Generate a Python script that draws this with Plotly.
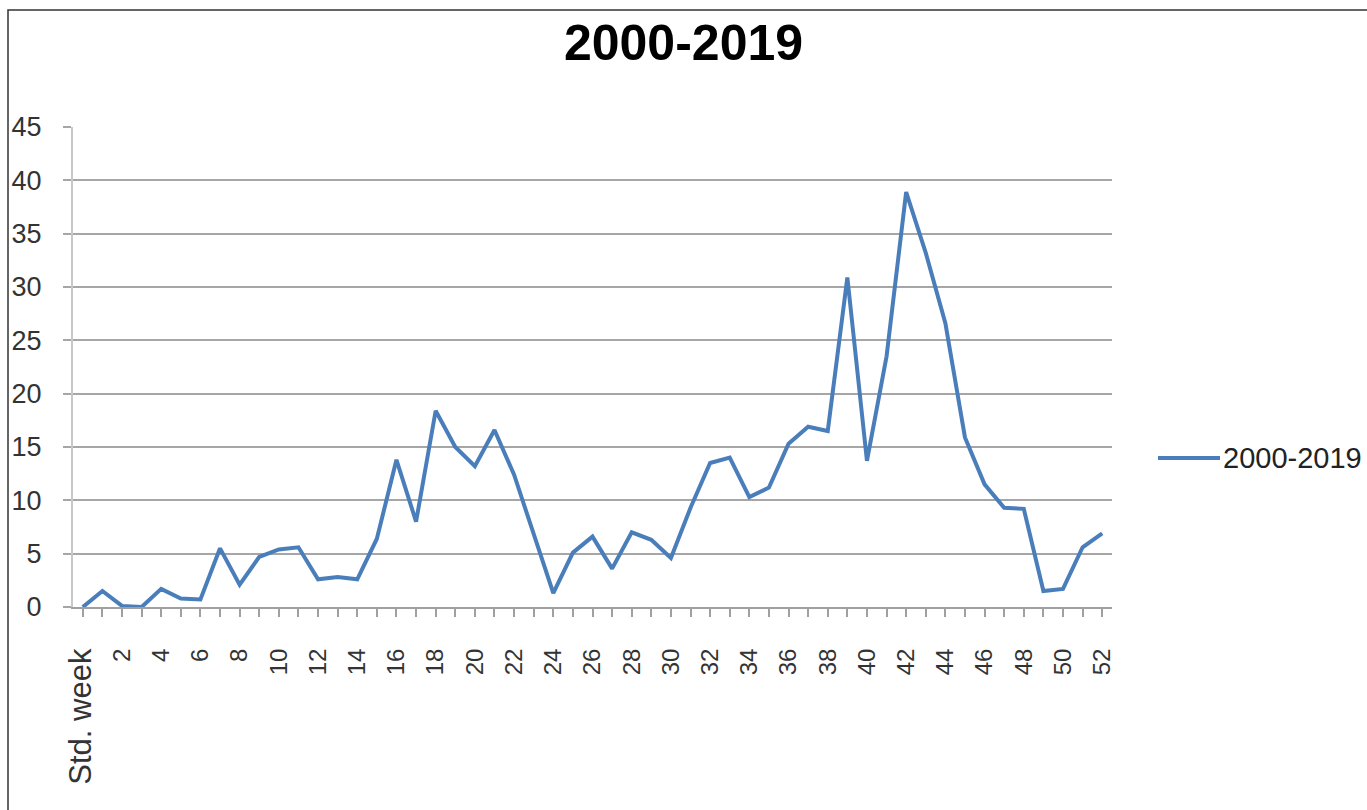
import plotly.graph_objects as go

series_name = "2000-2019"
weeks = ["Std. week"] + [str(i) for i in range(1, 53)]
values = [0.0, 1.5, 0.1, 0.0, 1.7, 0.8, 0.7, 5.5, 2.1, 4.7,
          5.4, 5.6, 2.6, 2.8, 2.6, 6.4, 13.8, 8.0, 18.4, 15.0,
          13.2, 16.6, 12.4, 6.7, 1.3, 5.1, 6.6, 3.6, 7.0, 6.3,
          4.6, 9.3, 13.5, 14.0, 10.3, 11.2, 15.3, 16.9, 16.5, 30.9,
          13.7, 23.5, 38.9, 33.2, 26.6, 15.9, 11.5, 9.3, 9.2, 1.5,
          1.7, 5.6, 6.9]
y_ticks = [0, 5, 10, 15, 20, 25, 30, 35, 40, 45]

tick_text = []
for i, w in enumerate(weeks):
    if i == 0:
        tick_text.append('<span style="font-size:31px">' + w + '</span>')
    elif i % 2 == 0:
        tick_text.append(w)
    else:
        tick_text.append("")

W, H = 1367, 810
L, R, T, B = 73, 1112, 127, 607
pw, ph = R - L, B - T
line_color = "#4a7ebb"

fig = go.Figure()
fig.add_trace(go.Scatter(
    x=weeks, y=values, mode="lines", name=series_name,
    line=dict(color=line_color, width=4),
))

def px_x(p):
    return (p - L) / pw

def px_y(p):
    return (B - p) / ph

fig.update_layout(
    width=W, height=H,
    margin=dict(l=L, r=W - R, t=T, b=H - B),
    paper_bgcolor="white", plot_bgcolor="white",
    title=dict(text="<b>2000-2019</b>", x=0.5, xanchor="center",
               y=1 - 42 / H, yanchor="middle",
               font=dict(family="Liberation Sans, Arial, sans-serif", size=50, color="black")),
    showlegend=False,
    xaxis=dict(type="category", tickmode="array", tickvals=weeks, ticktext=tick_text,
               tickangle=-90, ticks="outside", ticklen=8, tickcolor="#a0a0a0", tickwidth=1.5,
               showline=True, linecolor="#a0a0a0", linewidth=2, showgrid=False,
               ticklabelstandoff=22, range=[-0.5, 52.5],
               tickfont=dict(family="Liberation Sans, Arial, sans-serif", size=24, color="#333")),
    yaxis=dict(range=[0, 45], tickmode="array", tickvals=y_ticks,
               ticks="outside", ticklen=8, tickcolor="#a6a6a6", tickwidth=2,
               showgrid=True, gridcolor="#a6a6a6", gridwidth=2,
               showline=True, linecolor="#c8c8c8", linewidth=2, zeroline=False,
               ticklabelstandoff=16,
               tickfont=dict(family="Liberation Sans, Arial, sans-serif", size=27, color="#333")),
    shapes=[
        dict(type="rect", xref="paper", yref="paper",
             x0=px_x(8), x1=px_x(1372), y0=px_y(815), y1=px_y(10),
             line=dict(color="#333", width=1.5), fillcolor="rgba(0,0,0,0)", layer="below"),
        dict(type="line", xref="paper", yref="paper",
             x0=px_x(1158), x1=px_x(1220), y0=px_y(458), y1=px_y(458),
             line=dict(color=line_color, width=4)),
    ],
    annotations=[
        dict(text=series_name, xref="paper", yref="paper",
             x=px_x(1221), y=px_y(458), xanchor="left", yanchor="middle",
             showarrow=False,
             font=dict(family="Liberation Sans, Arial, sans-serif", size=29, color="#222")),
    ],
)

fig.write_html("out.html")
